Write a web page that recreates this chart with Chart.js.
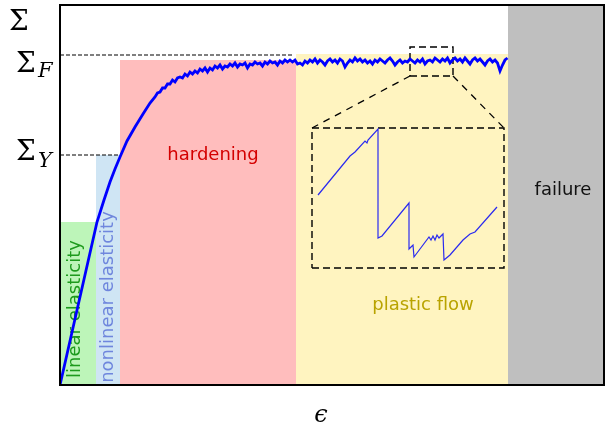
<!DOCTYPE html>
<html lang="en">
<head>
    <meta charset="UTF-8">
    <title>stress-strain</title>
    <script src="https://cdn.jsdelivr.net/npm/chart.js"></script>
    <style>
        body{margin:0; background:#fff;}
        div{width:605px; height:426px;}
    </style>
    <script>
        // strain (eps) / stress (Sigma) of the main curve
        const epsCurve = [0, 0.37, 0.44, 0.50, 0.55, 0.60, 0.67, 0.75, 0.83, 0.90,
            0.950, 0.975, 1.000, 1.025, 1.050, 1.075, 1.100, 1.125, 1.150, 1.175,
            1.200, 1.225, 1.250, 1.275, 1.300, 1.325, 1.350, 1.375, 1.400, 1.425,
            1.450, 1.475, 1.500, 1.525, 1.550, 1.575, 1.600, 1.625, 1.650, 1.675,
            1.700, 1.725, 1.750, 1.775, 1.800, 1.825, 1.850, 1.875, 1.900, 1.925,
            1.950, 1.975, 2.000, 2.025, 2.050, 2.075, 2.100, 2.125, 2.150, 2.175,
            2.200, 2.225, 2.250, 2.275, 2.300, 2.325, 2.350, 2.375, 2.400, 2.425,
            2.450, 2.475, 2.500, 2.525, 2.550, 2.575, 2.600, 2.625, 2.650, 2.675,
            2.700, 2.725, 2.750, 2.775, 2.800, 2.825, 2.850, 2.875, 2.900, 2.925,
            2.950, 2.975, 3.000, 3.025, 3.050, 3.075, 3.100, 3.125, 3.150, 3.175,
            3.200, 3.225, 3.250, 3.275, 3.300, 3.325, 3.350, 3.375, 3.400, 3.425,
            3.450, 3.475, 3.500, 3.525, 3.550, 3.575, 3.600, 3.625, 3.650, 3.675,
            3.700, 3.725, 3.750, 3.775, 3.800, 3.825, 3.850, 3.875, 3.900, 3.925,
            3.950, 3.975, 4.000, 4.025, 4.050, 4.075, 4.100, 4.125, 4.150, 4.175,
            4.200, 4.225, 4.250, 4.275, 4.300, 4.325, 4.350, 4.375, 4.400, 4.425,
            4.450, 4.475]
        const sigCurve = [0, 1.63, 1.85, 2.03, 2.16, 2.28, 2.44, 2.58, 2.71, 2.82,
            2.88, 2.92, 2.93, 2.97, 2.97, 3.01, 3.01, 3.05, 3.03, 3.07,
            3.08, 3.07, 3.11, 3.09, 3.13, 3.11, 3.14, 3.12, 3.16, 3.14,
            3.17, 3.13, 3.17, 3.15, 3.19, 3.17, 3.20, 3.16, 3.19, 3.18,
            3.21, 3.19, 3.22, 3.18, 3.21, 3.20, 3.22, 3.17, 3.21, 3.20,
            3.23, 3.21, 3.22, 3.19, 3.23, 3.21, 3.24, 3.22, 3.23, 3.20,
            3.24, 3.22, 3.25, 3.23, 3.25, 3.23, 3.25, 3.21, 3.22, 3.20,
            3.24, 3.22, 3.25, 3.23, 3.26, 3.22, 3.25, 3.23, 3.20, 3.24,
            3.26, 3.23, 3.25, 3.22, 3.26, 3.24, 3.18, 3.22, 3.25, 3.23,
            3.27, 3.24, 3.26, 3.23, 3.25, 3.22, 3.24, 3.21, 3.25, 3.23,
            3.26, 3.24, 3.22, 3.25, 3.27, 3.24, 3.20, 3.23, 3.25, 3.22,
            3.24, 3.23, 3.26, 3.24, 3.22, 3.25, 3.23, 3.26, 3.21, 3.24,
            3.25, 3.23, 3.27, 3.25, 3.23, 3.26, 3.24, 3.27, 3.22, 3.25,
            3.27, 3.24, 3.26, 3.23, 3.27, 3.24, 3.21, 3.25, 3.27, 3.24,
            3.26, 3.23, 3.20, 3.24, 3.26, 3.23, 3.25, 3.22, 3.14, 3.20,
            3.25, 3.27]

        // zoomed-in sawtooth (drawn inside the inset box)
        const epsInset = [2.58, 2.90, 2.95, 3.05, 3.07, 3.08, 3.18, 3.18, 3.22, 3.49, 3.49, 3.53, 3.54,
            3.69, 3.71, 3.73, 3.75, 3.77, 3.79, 3.83, 3.84, 3.90, 4.03, 4.10, 4.15, 4.37]
        const sigInset = [1.90, 2.29, 2.33, 2.44, 2.42, 2.45, 2.56, 1.47, 1.49, 1.82, 1.36, 1.40, 1.28,
            1.48, 1.45, 1.49, 1.45, 1.50, 1.47, 1.51, 1.25, 1.30, 1.45, 1.51, 1.53, 1.78]

        // regimes: start, end, top, colour, label
        const regionStart = [0, 0.36, 0.60, 2.36, 4.48]
        const regionEnd   = [0.36, 0.60, 2.36, 4.48, 5.44]
        const regionTop   = [1.63, 2.30, 3.25, 3.31, 3.80]
        const regionColor = ['#bdf5b9', '#cfe5f4', '#ffbdbd', '#fff4c0', '#bfbfbf']
        const regionLabel = ['linear elasticity', 'nonlinear elasticity', 'hardening', 'plastic flow', 'failure']
        const labelColor  = ['#1d9a1d', '#6f86dd', '#d40000', '#b9a300', '#111111']

        const sigmaY = 2.30
        const sigmaF = 3.30
        const epsY = 0.60
        const epsF = 2.33

        // zoom boxes
        const smallBox = [3.50, 3.93, 3.09, 3.38]   // x0, x1, y0, y1
        const bigBox   = [2.52, 4.44, 1.17, 2.57]

        function pts(xs, ys){
            return xs.map(function(x, i){ return {x: x, y: ys[i]} })
        }
        function boxPts(b){
            return [{x:b[0],y:b[2]},{x:b[1],y:b[2]},{x:b[1],y:b[3]},{x:b[0],y:b[3]},{x:b[0],y:b[2]}]
        }

        const regionsPlugin = {
            id: 'regions',
            beforeDatasetsDraw: function(chart){
                const ctx = chart.ctx
                const xs = chart.scales.x, ys = chart.scales.y
                ctx.save()
                for(let i=0; i<regionStart.length; i++){
                    const x0 = xs.getPixelForValue(regionStart[i])
                    const x1 = xs.getPixelForValue(regionEnd[i])
                    const y0 = ys.getPixelForValue(regionTop[i])
                    const y1 = ys.getPixelForValue(0)
                    ctx.fillStyle = regionColor[i]
                    ctx.fillRect(x0, y0, x1 - x0, y1 - y0)
                }
                ctx.font = '18px "DejaVu Sans"'
                ctx.textAlign = 'center'
                ctx.textBaseline = 'middle'
                // vertical labels
                ctx.fillStyle = labelColor[0]
                ctx.save(); ctx.translate(75, 309); ctx.rotate(-Math.PI/2)
                ctx.fillText(regionLabel[0], 0, 0); ctx.restore()
                ctx.fillStyle = labelColor[1]
                ctx.save(); ctx.translate(108, 297); ctx.rotate(-Math.PI/2)
                ctx.fillText(regionLabel[1], 0, 0); ctx.restore()
                // horizontal labels
                ctx.fillStyle = labelColor[2]; ctx.fillText(regionLabel[2], 213, 155)
                ctx.fillStyle = labelColor[3]; ctx.fillText(regionLabel[3], 423, 305)
                ctx.fillStyle = labelColor[4]; ctx.fillText(regionLabel[4], 563, 190)
                ctx.restore()
            },
            afterDraw: function(chart){
                const ctx = chart.ctx
                const a = chart.chartArea
                ctx.save()
                ctx.strokeStyle = '#000'
                ctx.lineWidth = 2
                ctx.strokeRect(a.left, a.top, a.right - a.left, a.bottom - a.top)
                // axis symbols
                ctx.fillStyle = '#000'
                ctx.textBaseline = 'alphabetic'
                ctx.textAlign = 'left'
                ctx.font = '28px "DejaVu Serif"'
                ctx.fillText('Σ', 9, 30)
                ctx.fillText('Σ', 16, 72)
                ctx.fillText('Σ', 16, 160)
                ctx.font = 'italic 21px "DejaVu Serif"'
                ctx.fillText('F', 38, 77)
                ctx.fillText('Y', 38, 167)
                ctx.font = 'italic 24px "DejaVu Serif"'
                ctx.textAlign = 'center'
                ctx.fillText('ϵ', 321, 422)
                ctx.restore()
            }
        }

        window.onload = function(){
            const ctx = document.getElementById('myChart').getContext('2d')
            const dashed = {borderColor:'#000', borderWidth:1.2, borderDash:[4,2], pointRadius:0, fill:false}
            new Chart(ctx, {
                type: 'line',
                data: {
                    datasets: [
                        {data: pts(epsCurve, sigCurve), borderColor:'#0000ff', borderWidth:2.8, pointRadius:0, tension:0},
                        {data: pts(epsInset, sigInset), borderColor:'#2a2af0', borderWidth:1.2, pointRadius:0, tension:0},
                        Object.assign({data: [{x:0,y:sigmaF},{x:epsF,y:sigmaF}]}, dashed),
                        Object.assign({data: [{x:0,y:sigmaY},{x:epsY,y:sigmaY}]}, dashed),
                        Object.assign({}, dashed, {data: boxPts(smallBox), borderWidth:1.4, borderDash:[7,4]}),
                        Object.assign({}, dashed, {data: boxPts(bigBox), borderWidth:1.4, borderDash:[7,4]}),
                        Object.assign({}, dashed, {data: [{x:smallBox[0],y:smallBox[2]},{x:bigBox[0],y:bigBox[3]}], borderWidth:1.3, borderDash:[7,6]}),
                        Object.assign({}, dashed, {data: [{x:smallBox[1],y:smallBox[2]},{x:bigBox[1],y:bigBox[3]}], borderWidth:1.3, borderDash:[7,6]})
                    ]
                },
                options: {
                    responsive: false,
                    animation: false,
                    devicePixelRatio: 1,
                    layout: {padding: {left:60, top:5, right:1, bottom:41}},
                    plugins: {legend:{display:false}, tooltip:{enabled:false}},
                    scales: {
                        x: {type:'linear', min:0, max:5.44, display:false},
                        y: {type:'linear', min:0, max:3.80, display:false}
                    }
                },
                plugins: [regionsPlugin]
            })
        }
    </script>
</head>
<body>
    <div>
        <canvas id="myChart" width="605" height="426"></canvas>
    </div>
</body>
</html>
